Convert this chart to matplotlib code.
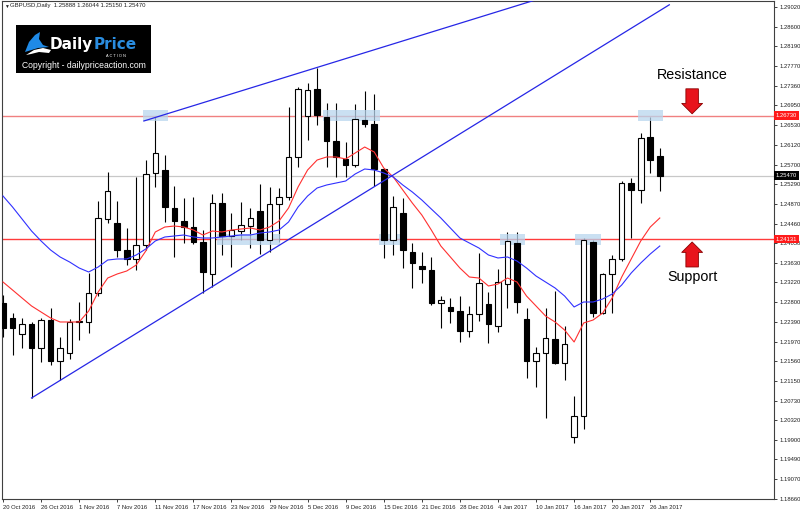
import numpy as np
import matplotlib
matplotlib.use('Agg')
import matplotlib.pyplot as plt
import matplotlib.transforms as mtransforms
from matplotlib.patches import Rectangle, Polygon

plt.rcParams['font.family'] = ['Liberation Sans', 'DejaVu Sans']

# ---- data (GBPUSD daily) ----
date_labels = ['20 Oct 2016', '26 Oct 2016', '1 Nov 2016', '7 Nov 2016', '11 Nov 2016',
               '17 Nov 2016', '23 Nov 2016', '29 Nov 2016', '5 Dec 2016', '9 Dec 2016',
               '15 Dec 2016', '21 Dec 2016', '28 Dec 2016', '4 Jan 2017', '10 Jan 2017',
               '16 Jan 2017', '20 Jan 2017', '26 Jan 2017']
label_every = 4

opens = [1.22786, 1.22470, 1.22133, 1.22344, 1.21838, 1.22428, 1.21564, 1.21733, 1.22386, 1.22386,
         1.22996, 1.24555, 1.24471, 1.23902, 1.23713, 1.24007, 1.25524, 1.25587, 1.24787, 1.24513,
         1.24386, 1.24071, 1.23397, 1.24892, 1.24197, 1.24302, 1.24407, 1.24723, 1.24113, 1.24871,
         1.25018, 1.25861, 1.26724, 1.27293, 1.26703, 1.26198, 1.25819, 1.25692, 1.26640, 1.26556,
         1.25608, 1.24113, 1.24681, 1.23860, 1.23565, 1.23481, 1.22786, 1.22702, 1.22617, 1.22196,
         1.22554, 1.22765, 1.22301, 1.23186, 1.24049, 1.22449, 1.21564, 1.21733, 1.22028, 1.21522,
         1.19964, 1.20406, 1.24071, 1.22575, 1.23397, 1.23713, 1.25313, 1.25166, 1.26282, 1.25888]
highs = [1.22954, 1.22575, 1.22470, 1.22386, 1.22470, 1.22681, 1.22070, 1.22449, 1.22807, 1.23418,
         1.24934, 1.25545, 1.24934, 1.24365, 1.25439, 1.25797, 1.26703, 1.25903, 1.25250, 1.24997,
         1.25018, 1.24323, 1.25081, 1.25102, 1.24681, 1.24913, 1.24787, 1.25292, 1.25229, 1.25208,
         1.26914, 1.27335, 1.27419, 1.27735, 1.26998, 1.26998, 1.26177, 1.26977, 1.27251, 1.27187,
         1.25620, 1.25039, 1.24997, 1.24049, 1.23860, 1.23755, 1.22933, 1.22891, 1.22933, 1.22723,
         1.23839, 1.23018, 1.23502, 1.24281, 1.24281, 1.22681, 1.21859, 1.22681, 1.23039, 1.22301,
         1.20827, 1.24155, 1.24113, 1.23418, 1.23797, 1.25355, 1.25418, 1.26366, 1.26703, 1.26044]
lows = [1.22070, 1.21691, 1.21838, 1.20785, 1.21543, 1.21480, 1.21164, 1.21607, 1.22007, 1.22154,
        1.22933, 1.24471, 1.23755, 1.23586, 1.23481, 1.23902, 1.25229, 1.24492, 1.23755, 1.24049,
        1.24028, 1.22996, 1.23123, 1.23797, 1.23544, 1.24113, 1.23944, 1.23818, 1.23860, 1.24071,
        1.24955, 1.25650, 1.26219, 1.26535, 1.25650, 1.25439, 1.25439, 1.25650, 1.26492, 1.25250,
        1.23734, 1.23797, 1.23523, 1.23102, 1.23207, 1.22744, 1.22259, 1.22365, 1.21965, 1.22070,
        1.22407, 1.21943, 1.22175, 1.22681, 1.22575, 1.21206, 1.21017, 1.20364, 1.21501, 1.21164,
        1.19837, 1.20132, 1.22491, 1.22554, 1.22575, 1.23670, 1.24155, 1.24892, 1.25524, 1.25150]
closes = [1.22259, 1.22259, 1.22344, 1.21838, 1.22428, 1.21564, 1.21838, 1.22386, 1.22407, 1.22996,
          1.24576, 1.25145, 1.23902, 1.23713, 1.24007, 1.25503, 1.25945, 1.24808, 1.24513, 1.24386,
          1.24071, 1.23439, 1.24892, 1.24197, 1.24323, 1.24429, 1.24576, 1.24113, 1.24871, 1.25018,
          1.25861, 1.27293, 1.27272, 1.26745, 1.26198, 1.25861, 1.25692, 1.26661, 1.26556, 1.25608,
          1.24113, 1.24808, 1.23902, 1.23628, 1.23502, 1.22786, 1.22849, 1.22617, 1.22196, 1.22554,
          1.23207, 1.22344, 1.23228, 1.24092, 1.22807, 1.21564, 1.21733, 1.22049, 1.21522, 1.21922,
          1.20406, 1.24113, 1.22575, 1.23397, 1.23713, 1.25313, 1.25166, 1.26261, 1.25797, 1.25470]

ma_fast = [1.23228, 1.23060, 1.22891, 1.22723, 1.22596, 1.22470, 1.22386, 1.22386, 1.22386, 1.22617,
           1.23018, 1.23312, 1.23397, 1.23460, 1.23586, 1.23881, 1.24281, 1.24386, 1.24407, 1.24386,
           1.24323, 1.24218, 1.24302, 1.24281, 1.24323, 1.24344, 1.24365, 1.24323, 1.24386, 1.24513,
           1.24787, 1.25229, 1.25587, 1.25797, 1.25861, 1.25861, 1.25819, 1.25945, 1.26071, 1.25966,
           1.25629, 1.25439, 1.25166, 1.24892, 1.24639, 1.24323, 1.23986, 1.23755, 1.23523, 1.23333,
           1.23312, 1.23144, 1.23186, 1.23312, 1.23228, 1.22933, 1.22723, 1.22512, 1.22386, 1.22217,
           1.21965, 1.22365, 1.22428, 1.22575, 1.22891, 1.23333, 1.23713, 1.24092, 1.24386, 1.24576]
ma_slow = [1.25039, 1.24808, 1.24555, 1.24302, 1.24092, 1.23902, 1.23755, 1.23649, 1.23523, 1.23439,
           1.23544, 1.23691, 1.23713, 1.23713, 1.23797, 1.23923, 1.24092, 1.24176, 1.24197, 1.24218,
           1.24176, 1.24155, 1.24155, 1.24176, 1.24197, 1.24218, 1.24218, 1.24260, 1.24281, 1.24323,
           1.24492, 1.24808, 1.25039, 1.25208, 1.25271, 1.25313, 1.25355, 1.25503, 1.25608, 1.25587,
           1.25524, 1.25439, 1.25271, 1.25124, 1.24955, 1.24765, 1.24576, 1.24365, 1.24155, 1.24049,
           1.23944, 1.23797, 1.23734, 1.23755, 1.23670, 1.23523, 1.23354, 1.23228, 1.23102, 1.22933,
           1.22702, 1.22807, 1.22807, 1.22870, 1.22975, 1.23165, 1.23418, 1.23628, 1.23818, 1.23986]

resistance = 1.26730
support = 1.24131
last_price = 1.25470
header = 'GBPUSD,Daily  1.25888 1.26044 1.25150 1.25470'

# trend lines: (bars, prices)
lower_trend = ([3, 70], [1.20785, 1.29066])
upper_trend = ([14.8, 60], [1.26619, 1.29420])

# highlighted zones: (first bar, last bar, level)
zones = [(14.7, 17.3, resistance), (33.6, 39.6, resistance), (66.7, 69.3, resistance),
         (22.5, 29.1, support), (39.5, 41.8, support), (52.2, 54.8, support), (60.1, 62.8, support)]

price_ticks = [1.29020, 1.28600, 1.28190, 1.27770, 1.27360, 1.26950, 1.26530, 1.26120, 1.25700,
               1.25290, 1.24870, 1.24460, 1.24050, 1.23630, 1.23220, 1.22800, 1.22390, 1.21970,
               1.21560, 1.21150, 1.20730, 1.20320, 1.19900, 1.19490, 1.19070, 1.18660]

# ---- figure ----
fig = plt.figure(figsize=(8, 5.14), dpi=100)
ax = fig.add_axes([2 / 800, 15 / 514, 772 / 800, 498 / 514])
ax.set_xlim(-0.105, 81.0)
ax.set_ylim(1.18658, 1.29146)

x = np.arange(len(opens))
o = np.array(opens)
c = np.array(closes)
up = c >= o

ax.vlines(x, lows, highs, color='black', lw=0.8, zorder=3)
ax.bar(x, np.abs(c - o) + 1e-5, bottom=np.minimum(o, c), width=0.58,
       color=np.where(up, 'white', 'black'), edgecolor='black', lw=0.8, zorder=4)

# levels
ax.axhline(resistance, color='#f08080', lw=1.0, zorder=2)
ax.axhline(support, color='#ff3b3b', lw=1.0, zorder=2)
ax.axhline(last_price, color='#c8c8c8', lw=0.9, zorder=1)

half = 0.00116
for start, end, level in zones:
    ax.add_patch(Rectangle((start, level - half), end - start, 2 * half,
                           facecolor='#b9d6ee', edgecolor='none', alpha=0.75, zorder=3.5))

# moving averages
ax.plot(x, ma_fast, color='#ff3030', lw=0.8, zorder=5)
ax.plot(x, ma_slow, color='#3030ff', lw=0.8, zorder=5)

# trend lines
ax.plot(*lower_trend, color='#2626e6', lw=0.9, zorder=5)
ax.plot(*upper_trend, color='#2626e6', lw=0.9, zorder=5)

# arrows and notes
arrow_bar = 72.4
arrow_style = dict(arrowstyle='simple,head_length=0.5,head_width=1.0,tail_width=0.6',
                   fc='#e8141c', ec='#8a0000', lw=0.6, mutation_scale=15, shrinkA=0, shrinkB=0)
ax.annotate('', xy=(arrow_bar, resistance + 0.0004), xytext=(0, 18),
            textcoords='offset points', arrowprops=arrow_style, zorder=6)
ax.annotate('', xy=(arrow_bar, support - 0.0006), xytext=(0, -18),
            textcoords='offset points', arrowprops=arrow_style, zorder=6)
ax.annotate('Resistance', xy=(arrow_bar, resistance), xytext=(0, 29),
            textcoords='offset points', ha='center', va='center', fontsize=10.3)
ax.annotate('Support', xy=(arrow_bar, support), xytext=(0, -27),
            textcoords='offset points', ha='center', va='center', fontsize=10.3)

# axes styling
for side in ['left', 'top', 'right', 'bottom']:
    ax.spines[side].set_color('#404040')
    ax.spines[side].set_linewidth(0.8)

ax.yaxis.tick_right()
ax.set_yticks(price_ticks)
ax.set_yticklabels(['%.5f' % p for p in price_ticks])
ax.tick_params(axis='y', length=2.5, width=0.6, pad=1.5, labelsize=4.2, colors='#202020')

ax.set_xticks(np.arange(0, len(date_labels) * label_every, label_every))
ax.set_xticklabels(date_labels, ha='left')
ax.tick_params(axis='x', length=2.5, width=0.6, pad=1.5, labelsize=4.2, colors='#202020')

# boxed price labels on the right scale
trans = mtransforms.blended_transform_factory(ax.transAxes, ax.transData)
for level, face in [(resistance, '#ff1a1a'), (support, '#ff1a1a'), (last_price, 'black')]:
    ax.text(1.002, level, '%.5f' % level, transform=trans, ha='left', va='center',
            fontsize=4.2, color='white', clip_on=False, zorder=10,
            bbox=dict(boxstyle='square,pad=0.3', fc=face, ec='none'))

# header
fig.text(4 / 800, 1 - 6 / 514, '\u25bc', fontsize=3.5, va='center', color='#202020')
fig.text(10 / 800, 1 - 6 / 514, header, fontsize=4.3, va='center', color='#202020')

# logo
lg = fig.add_axes([16 / 800, 1 - 73 / 514, 135 / 800, 48 / 514])
lg.set_xlim(0, 135)
lg.set_ylim(48, 0)
lg.set_facecolor('black')
lg.set_xticks([])
lg.set_yticks([])
for side in lg.spines:
    lg.spines[side].set_visible(False)
lg.add_patch(Polygon([(9, 27), (13, 17), (19, 10), (24, 7), (23, 14), (27, 20), (33, 22), (22, 23)],
                     closed=True, facecolor='#1f8ae6', edgecolor='none'))
lg.add_patch(Polygon([(10, 30), (18, 25), (27, 23), (35, 25), (33, 28), (23, 27), (15, 29)],
                     closed=True, facecolor='white', edgecolor='none'))
lg.text(77, 24, 'Daily', color='white', fontsize=11, fontweight='bold',
        family='DejaVu Sans', ha='right', va='baseline')
lg.text(77.5, 24, 'Price', color='#2a8de0', fontsize=11, fontweight='bold',
        family='DejaVu Sans', ha='left', va='baseline')
lg.text(100, 28.8, 'A C T I O N', color='white', fontsize=2.8, ha='center', va='top')
lg.text(68, 41, 'Copyright - dailypriceaction.com', color='white', fontsize=6.2,
        ha='center', va='center')

fig.savefig('out.png', dpi=100)
